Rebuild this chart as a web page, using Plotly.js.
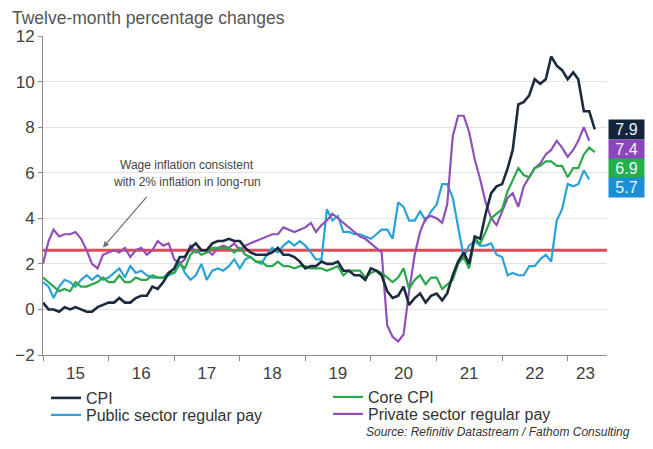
<!DOCTYPE html>
<html>
<head>
<meta charset="utf-8">
<script src="https://cdn.plot.ly/plotly-3.0.1.min.js"></script>
<style>
  html, body { margin: 0; padding: 0; background: #ffffff; }
  #chart { width: 653px; height: 449px; }
</style>
</head>
<body>
<div id="chart"></div>
<script>
// ---------- Data (monthly, starting January 2015) ----------
const startYear = 2015;

const seriesNames = ["CPI", "Core CPI", "Public sector regular pay", "Private sector regular pay"];

// CPI, Jan 2015 - Jun 2023
const cpi = [
  0.3, 0.0, 0.0, -0.1, 0.1, 0.0, 0.1, 0.0, -0.1, -0.1, 0.1, 0.2,
  0.3, 0.3, 0.5, 0.3, 0.3, 0.5, 0.6, 0.6, 1.0, 0.9, 1.2, 1.6,
  1.8, 2.3, 2.3, 2.7, 2.9, 2.6, 2.6, 2.9, 3.0, 3.0, 3.1, 3.0,
  3.0, 2.7, 2.5, 2.4, 2.4, 2.4, 2.5, 2.7, 2.4, 2.4, 2.3, 2.1,
  1.8, 1.9, 1.9, 2.1, 2.0, 2.0, 2.1, 1.7, 1.7, 1.5, 1.5, 1.3,
  1.8, 1.7, 1.5, 0.8, 0.5, 0.6, 1.0, 0.2, 0.5, 0.7, 0.3, 0.6,
  0.7, 0.4, 0.7, 1.5, 2.1, 2.5, 2.0, 3.2, 3.1, 4.2, 5.1, 5.4,
  5.5, 6.2, 7.0, 9.0, 9.1, 9.4, 10.1, 9.9, 10.1, 11.1, 10.7, 10.5,
  10.1, 10.4, 10.1, 8.7, 8.7, 7.9
];

// Core CPI, Jan 2015 - Jun 2023
const coreCpi = [
  1.4, 1.2, 1.0, 0.8, 0.9, 0.8, 1.2, 1.0, 1.0, 1.1, 1.2, 1.4,
  1.2, 1.2, 1.5, 1.2, 1.2, 1.4, 1.3, 1.3, 1.5, 1.4, 1.4, 1.6,
  1.6, 2.0, 1.8, 2.4, 2.6, 2.4, 2.5, 2.7, 2.7, 2.7, 2.7, 2.5,
  2.7, 2.4, 2.3, 2.1, 2.1, 1.9, 1.9, 2.1, 1.9, 1.9, 1.8, 1.9,
  1.9, 1.8, 1.8, 1.8, 1.7, 1.8, 1.9, 1.5, 1.7, 1.7, 1.7, 1.4,
  1.6, 1.7, 1.6, 1.4, 1.2, 1.4, 1.8, 0.9, 1.3, 1.5, 1.1, 1.4,
  1.4, 0.9, 1.1, 1.3, 2.0, 2.3, 1.8, 3.1, 2.9, 3.4, 4.0, 4.2,
  4.4, 5.2, 5.7, 6.2, 5.9, 5.8, 6.2, 6.3, 6.5, 6.5, 6.3, 6.3,
  5.8, 6.2, 6.2, 6.8, 7.1, 6.9
];

// Public sector regular pay, Jan 2015 - May 2023
const publicPay = [
  1.2, 1.0, 0.5, 1.0, 1.3, 1.2, 1.0, 1.3, 1.5, 1.3, 1.5, 1.3,
  1.4, 1.6, 1.8, 1.4, 1.9, 1.6, 1.7, 1.5, 1.4, 1.4, 1.4, 1.5,
  1.6, 2.1, 1.6, 1.3, 1.5, 2.0, 1.3, 1.7, 1.8, 1.7, 1.9, 2.2,
  1.8, 2.2, 2.3, 2.1, 2.0, 2.4, 2.7, 2.5, 2.8, 3.0, 2.8, 3.0,
  2.8, 2.5, 2.2, 2.2, 4.4, 3.9, 4.1, 3.4, 3.4, 3.3, 3.3, 3.2,
  3.1, 3.3, 3.5, 3.5, 3.1, 4.7, 4.5, 3.9, 3.9, 4.3, 3.9, 4.3,
  4.6, 5.5, 5.5, 4.9, 3.6, 2.3, 2.8, 3.0, 2.8, 2.8, 2.9, 2.4,
  2.3, 1.5, 1.6, 1.5, 1.5, 1.9, 1.9, 2.2, 2.4, 2.1, 3.9, 4.4,
  5.5, 5.4, 5.5, 6.1, 5.7
];

// Private sector regular pay, Jan 2015 - May 2023
const privatePay = [
  2.0, 3.0, 3.5, 3.2, 3.3, 3.3, 3.4, 3.1, 2.6, 2.0, 1.8, 2.4,
  2.5, 2.6, 2.5, 2.7, 2.3, 2.6, 2.7, 2.4, 2.6, 3.0, 2.8, 2.9,
  2.2, 2.0, 2.2, 2.8, 2.5, 2.6, 2.6, 2.4, 2.7, 2.8, 2.7, 2.9,
  2.6, 2.8, 2.9, 3.0, 3.1, 3.2, 3.3, 3.3, 3.6, 3.5, 3.4, 3.5,
  3.6, 3.8, 3.4, 3.7, 3.9, 4.2, 4.0, 3.8, 3.6, 3.4, 3.2, 3.1,
  2.9, 2.7, 2.5, -0.7, -1.2, -1.4, -1.1, 0.8, 2.4, 3.4, 4.0, 4.1,
  4.0, 3.8, 4.6, 7.6, 8.5, 8.5, 7.8, 6.6, 5.7, 4.7, 4.0, 3.7,
  4.3, 4.9, 5.1, 4.5, 5.4, 5.8, 6.2, 6.4, 6.8, 7.0, 7.4, 7.1,
  6.7, 7.0, 7.4, 8.0, 7.4
];

// Level of wage growth consistent with 2% inflation in the long run
const wageConsistentLevel = 2.6;

// Tick labels
const yearLabels = ["15", "16", "17", "18", "19", "20", "21", "22", "23"];
const endLabels = ["7.9", "7.4", "6.9", "5.7"];

// ---------- Helpers ----------
function monthDates(n) {
  const out = [];
  for (let i = 0; i < n; i++) {
    const y = startYear + Math.floor(i / 12);
    const m = (i % 12) + 1;
    out.push(y + "-" + (m < 10 ? "0" + m : m) + "-01");
  }
  return out;
}

const FONT = "Arial, Liberation Sans, sans-serif";

const colors = {
  cpi: "#1b2a3d",
  core: "#2aa84a",
  pub: "#2aa2d9",
  priv: "#9150b9",
  red: "#e04a55",
  boxCpi: "#14243a",
  boxPriv: "#8b46bb",
  boxCore: "#22b04b",
  boxPub: "#1b8fd6"
};

const xStart = "2015-01-01";
const xEnd = "2023-08-08";

const traces = [
  {
    x: [xStart, xEnd], y: [wageConsistentLevel, wageConsistentLevel],
    type: "scatter", mode: "lines", showlegend: false, hoverinfo: "skip",
    line: { color: colors.red, width: 3 }
  },
  {
    name: seriesNames[2], x: monthDates(publicPay.length), y: publicPay,
    type: "scatter", mode: "lines", line: { color: colors.pub, width: 2.2 }, legend: "legend3"
  },
  {
    name: seriesNames[3], x: monthDates(privatePay.length), y: privatePay,
    type: "scatter", mode: "lines", line: { color: colors.priv, width: 2.2 }, legend: "legend4"
  },
  {
    name: seriesNames[1], x: monthDates(coreCpi.length), y: coreCpi,
    type: "scatter", mode: "lines", line: { color: colors.core, width: 2.2 }, legend: "legend2"
  },
  {
    name: seriesNames[0], x: monthDates(cpi.length), y: cpi,
    type: "scatter", mode: "lines", line: { color: colors.cpi, width: 2.6 }, legend: "legend"
  }
];

// x tick label positions (centre of each year's visible span)
const labelPositions = yearLabels.map((lab, i) => {
  const yr = startYear + i;
  return (yr === 2023) ? "2023-04-10" : yr + "-07-01";
});
const yearStarts = yearLabels.map((lab, i) => (startYear + i) + "-01-01");

// end-value boxes
const boxColors = [colors.boxCpi, colors.boxPriv, colors.boxCore, colors.boxPub];
const boxY = [7.89, 7.04, 6.2, 5.37];
const endAnnotations = endLabels.map((t, i) => ({
  text: t, xref: "paper", yref: "y", x: 1.0018, y: boxY[i],
  xanchor: "left", yanchor: "middle", showarrow: false,
  bgcolor: boxColors[i], width: 31, height: 15, borderpad: 2,
  font: { family: FONT, size: 16, color: "#eef3fa" }
}));

function legendAt(px, pyTop) {
  return {
    orientation: "v", xref: "container", yref: "container",
    x: px / 653, y: 1 - pyTop / 449, xanchor: "left", yanchor: "top",
    font: { family: FONT, size: 16, color: "#333333" },
    bgcolor: "rgba(0,0,0,0)", borderwidth: 0
  };
}

const layout = {
  width: 653, height: 449,
  margin: { l: 43, r: 46, t: 36, b: 94, autoexpand: false },
  paper_bgcolor: "#ffffff", plot_bgcolor: "#ffffff",
  font: { family: FONT, color: "#404040" },
  title: {
    text: "Twelve-month percentage changes",
    x: 12 / 653, xanchor: "left", xref: "container",
    y: 1 - 17.5 / 449, yanchor: "middle", yref: "container",
    font: { size: 17.5, color: "#555555", family: FONT }
  },
  xaxis: {
    type: "date", range: [xStart, xEnd],
    tickmode: "array", tickvals: labelPositions, ticktext: yearLabels,
    ticks: "", showgrid: false, zeroline: false,
    showline: true, linecolor: "#8a8a8a", linewidth: 1,
    tickfont: { size: 17, color: "#404040" },
    ticklabelstandoff: 3, automargin: false,
    minor: { tickmode: "array", tickvals: yearStarts, ticks: "outside", ticklen: 5, tickcolor: "#8a8a8a", showgrid: false }
  },
  yaxis: {
    range: [-2, 12], tickmode: "array", tickvals: [-2, 0, 2, 4, 6, 8, 10, 12],
    ticks: "outside", ticklen: 4, tickcolor: "#8a8a8a",
    showgrid: true, gridcolor: "#e3e3e3", gridwidth: 1,
    zeroline: false, showline: true, linecolor: "#8a8a8a", linewidth: 1,
    tickfont: { size: 17, color: "#404040" }, automargin: false
  },
  showlegend: true,
  legend: legendAt(46, 381),
  legend2: legendAt(328, 380),
  legend3: legendAt(46, 398),
  legend4: legendAt(328, 397),
  annotations: [
    {
      text: "Wage inflation consistent", xref: "x", yref: "y",
      x: "2017-03-15", y: 6.35, showarrow: false,
      font: { size: 12, color: "#444444" }
    },
    {
      text: "with 2% inflation in long-run", xref: "x", yref: "y",
      x: "2017-03-15", y: 5.6, showarrow: false,
      font: { size: 12, color: "#444444" }
    },
    {
      text: "", xref: "x", yref: "y", x: "2015-12-01", y: 2.72,
      showarrow: true, arrowhead: 2, arrowsize: 1, arrowwidth: 1.2, arrowcolor: "#6e6e6e",
      ax: 45, ay: -52
    },
    {
      text: "<i>Source: Refinitiv Datastream / Fathom Consulting</i>",
      xref: "paper", yref: "paper", x: (632 - 43) / 564, y: (355 - 432) / 319,
      xanchor: "right", yanchor: "middle", showarrow: false,
      font: { size: 12, color: "#333333" }
    }
  ].concat(endAnnotations)
};

Plotly.newPlot("chart", traces, layout, { displayModeBar: false, staticPlot: true });
</script>
</body>
</html>
